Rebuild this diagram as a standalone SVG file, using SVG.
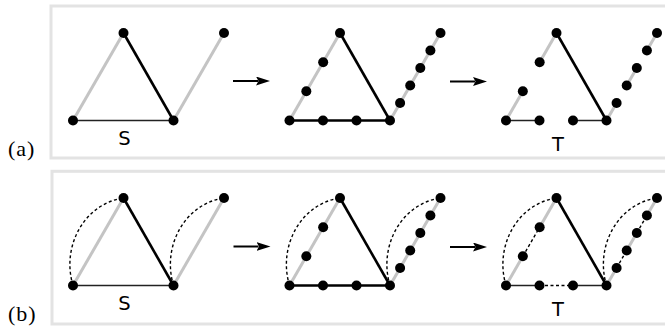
<svg xmlns="http://www.w3.org/2000/svg" width="665" height="333" viewBox="0 0 665 333">
<style>
.frame{fill:none;stroke:#e3e3e3;stroke-width:3}
.gray{stroke:#c4c4c4;stroke-width:3;fill:none}
.heavy{stroke:#000;stroke-width:2.6;fill:none}
.thin{stroke:#222;stroke-width:1.7;fill:none}
.dash{stroke:#000;stroke-width:1.4;stroke-dasharray:3 2.5;fill:none}
.arrow{stroke:#000;stroke-width:2;marker-end:url(#ah)}
.dot{fill:#000}
.lab{font-family:"DejaVu Sans",sans-serif;font-size:19.5px;fill:#000;text-anchor:middle}
.pan{font-family:"Liberation Serif",serif;font-size:22px;fill:#000;letter-spacing:1px}
</style>
<defs>
<marker id="ah" markerUnits="userSpaceOnUse" markerWidth="14" markerHeight="9" viewBox="0 0 14 9" refX="2" refY="4.5" orient="auto">
<path d="M0,0 L14,4.5 L0,9 L2.5,4.5 z" fill="#000"/>
</marker>
</defs>
<g id="frames">
<rect class="frame" x="51" y="6" width="620" height="152"/>
<rect class="frame" x="52" y="171.3" width="620" height="152.7"/>
</g>
<g id="labels">
<text class="pan" x="8" y="156">(a)</text>
<text class="pan" x="8" y="321">(b)</text>
<text class="lab" x="124.5" y="144.5">S</text>
<text class="lab" x="558" y="150.5">T</text>
<text class="lab" x="124.5" y="310">S</text>
<text class="lab" x="558" y="315.5">T</text>
</g>
<g id="connectors">
<line class="gray" x1="73" y1="120.5" x2="123.5" y2="33"/>
<line class="gray" x1="173.5" y1="120.5" x2="224" y2="33"/>
<line class="heavy" x1="123.5" y1="33" x2="173.5" y2="120.5"/>
<line class="thin" x1="73" y1="120.5" x2="173.5" y2="120.5"/>
<line class="gray" x1="289.5" y1="120.5" x2="340" y2="33"/>
<line class="gray" x1="390" y1="120.5" x2="440.5" y2="33"/>
<line class="heavy" x1="340" y1="33" x2="390" y2="120.5"/>
<line class="heavy" x1="289.5" y1="120.5" x2="390" y2="120.5"/>
<line class="gray" x1="556.5" y1="33" x2="539.67" y2="62.17"/>
<line class="gray" x1="522.83" y1="91.33" x2="506" y2="120.5"/>
<line class="heavy" x1="556.5" y1="33" x2="606.5" y2="120.5"/>
<line class="thin" x1="506" y1="120.5" x2="539.5" y2="120.5"/>
<line class="thin" x1="573" y1="120.5" x2="606.5" y2="120.5"/>
<line class="gray" x1="606.5" y1="120.5" x2="616.6" y2="103"/>
<line class="gray" x1="626.7" y1="85.5" x2="636.8" y2="68"/>
<line class="gray" x1="646.9" y1="50.5" x2="657" y2="33"/>
<line class="arrow" x1="233" y1="81" x2="258" y2="81"/>
<line class="arrow" x1="450" y1="81.5" x2="475" y2="81.5"/>
<line class="gray" x1="73" y1="285.5" x2="123.5" y2="198"/>
<line class="gray" x1="173.5" y1="285.5" x2="224" y2="198"/>
<line class="heavy" x1="123.5" y1="198" x2="173.5" y2="285.5"/>
<line class="thin" x1="73" y1="285.5" x2="173.5" y2="285.5"/>
<path class="dash" d="M73,285.5 C61,245.5 85,203.5 123.5,198"/>
<path class="dash" d="M173.5,285.5 C161.5,245.5 185.5,203.5 224,198"/>
<line class="gray" x1="289.5" y1="285.5" x2="340" y2="198"/>
<line class="gray" x1="390" y1="285.5" x2="440.5" y2="198"/>
<line class="heavy" x1="340" y1="198" x2="390" y2="285.5"/>
<line class="heavy" x1="289.5" y1="285.5" x2="390" y2="285.5"/>
<path class="dash" d="M289.5,285.5 C277.5,245.5 301.5,203.5 340,198"/>
<path class="dash" d="M390,285.5 C378,245.5 402,203.5 440.5,198"/>
<line class="gray" x1="556.5" y1="198" x2="539.67" y2="227.17"/>
<line class="gray" x1="522.83" y1="256.33" x2="506" y2="285.5"/>
<line class="dash" x1="522.83" y1="256.33" x2="539.67" y2="227.17"/>
<line class="heavy" x1="556.5" y1="198" x2="606.5" y2="285.5"/>
<line class="thin" x1="506" y1="285.5" x2="539.5" y2="285.5"/>
<line class="dash" x1="539.5" y1="285.5" x2="573" y2="285.5"/>
<line class="thin" x1="573" y1="285.5" x2="606.5" y2="285.5"/>
<line class="gray" x1="606.5" y1="285.5" x2="616.6" y2="268"/>
<line class="dash" x1="616.6" y1="268" x2="626.7" y2="250.5"/>
<line class="gray" x1="626.7" y1="250.5" x2="636.8" y2="233"/>
<line class="dash" x1="636.8" y1="233" x2="646.9" y2="215.5"/>
<line class="gray" x1="646.9" y1="215.5" x2="657" y2="198"/>
<path class="dash" d="M506,285.5 C494,245.5 518,203.5 556.5,198"/>
<path class="dash" d="M606.5,285.5 C594.5,245.5 618.5,203.5 657,198"/>
<line class="arrow" x1="233.5" y1="246.5" x2="258.5" y2="246.5"/>
<line class="arrow" x1="450" y1="247" x2="475" y2="247"/>
</g>
<g id="nodes">
<g id="a1-bl"><circle class="dot" cx="73" cy="120.5" r="5"/></g>
<g id="a1-top"><circle class="dot" cx="123.5" cy="33" r="5"/></g>
<g id="a1-br"><circle class="dot" cx="173.5" cy="120.5" r="5"/></g>
<g id="a1-far"><circle class="dot" cx="224" cy="33" r="5"/></g>
<g id="a2-bl"><circle class="dot" cx="289.5" cy="120.5" r="5"/></g>
<g id="a2-top"><circle class="dot" cx="340" cy="33" r="5"/></g>
<g id="a2-br"><circle class="dot" cx="390" cy="120.5" r="5"/></g>
<g id="a2-far"><circle class="dot" cx="440.5" cy="33" r="5"/></g>
<g id="a2-l1"><circle class="dot" cx="306.33" cy="91.33" r="5"/></g>
<g id="a2-l2"><circle class="dot" cx="323.17" cy="62.17" r="5"/></g>
<g id="a2-b1"><circle class="dot" cx="323" cy="120.5" r="5"/></g>
<g id="a2-b2"><circle class="dot" cx="356.5" cy="120.5" r="5"/></g>
<g id="a2-r1"><circle class="dot" cx="400.1" cy="103" r="5"/></g>
<g id="a2-r2"><circle class="dot" cx="410.2" cy="85.5" r="5"/></g>
<g id="a2-r3"><circle class="dot" cx="420.3" cy="68" r="5"/></g>
<g id="a2-r4"><circle class="dot" cx="430.4" cy="50.5" r="5"/></g>
<g id="a3-bl"><circle class="dot" cx="506" cy="120.5" r="5"/></g>
<g id="a3-top"><circle class="dot" cx="556.5" cy="33" r="5"/></g>
<g id="a3-br"><circle class="dot" cx="606.5" cy="120.5" r="5"/></g>
<g id="a3-far"><circle class="dot" cx="657" cy="33" r="5"/></g>
<g id="a3-l1"><circle class="dot" cx="522.83" cy="91.33" r="5"/></g>
<g id="a3-l2"><circle class="dot" cx="539.67" cy="62.17" r="5"/></g>
<g id="a3-b1"><circle class="dot" cx="539.5" cy="120.5" r="5"/></g>
<g id="a3-b2"><circle class="dot" cx="573" cy="120.5" r="5"/></g>
<g id="a3-r1"><circle class="dot" cx="616.6" cy="103" r="5"/></g>
<g id="a3-r2"><circle class="dot" cx="626.7" cy="85.5" r="5"/></g>
<g id="a3-r3"><circle class="dot" cx="636.8" cy="68" r="5"/></g>
<g id="a3-r4"><circle class="dot" cx="646.9" cy="50.5" r="5"/></g>
<g id="b1-bl"><circle class="dot" cx="73" cy="285.5" r="5"/></g>
<g id="b1-top"><circle class="dot" cx="123.5" cy="198" r="5"/></g>
<g id="b1-br"><circle class="dot" cx="173.5" cy="285.5" r="5"/></g>
<g id="b1-far"><circle class="dot" cx="224" cy="198" r="5"/></g>
<g id="b2-bl"><circle class="dot" cx="289.5" cy="285.5" r="5"/></g>
<g id="b2-top"><circle class="dot" cx="340" cy="198" r="5"/></g>
<g id="b2-br"><circle class="dot" cx="390" cy="285.5" r="5"/></g>
<g id="b2-far"><circle class="dot" cx="440.5" cy="198" r="5"/></g>
<g id="b2-l1"><circle class="dot" cx="306.33" cy="256.33" r="5"/></g>
<g id="b2-l2"><circle class="dot" cx="323.17" cy="227.17" r="5"/></g>
<g id="b2-b1"><circle class="dot" cx="323" cy="285.5" r="5"/></g>
<g id="b2-b2"><circle class="dot" cx="356.5" cy="285.5" r="5"/></g>
<g id="b2-r1"><circle class="dot" cx="400.1" cy="268" r="5"/></g>
<g id="b2-r2"><circle class="dot" cx="410.2" cy="250.5" r="5"/></g>
<g id="b2-r3"><circle class="dot" cx="420.3" cy="233" r="5"/></g>
<g id="b2-r4"><circle class="dot" cx="430.4" cy="215.5" r="5"/></g>
<g id="b3-bl"><circle class="dot" cx="506" cy="285.5" r="5"/></g>
<g id="b3-top"><circle class="dot" cx="556.5" cy="198" r="5"/></g>
<g id="b3-br"><circle class="dot" cx="606.5" cy="285.5" r="5"/></g>
<g id="b3-far"><circle class="dot" cx="657" cy="198" r="5"/></g>
<g id="b3-l1"><circle class="dot" cx="522.83" cy="256.33" r="5"/></g>
<g id="b3-l2"><circle class="dot" cx="539.67" cy="227.17" r="5"/></g>
<g id="b3-b1"><circle class="dot" cx="539.5" cy="285.5" r="5"/></g>
<g id="b3-b2"><circle class="dot" cx="573" cy="285.5" r="5"/></g>
<g id="b3-r1"><circle class="dot" cx="616.6" cy="268" r="5"/></g>
<g id="b3-r2"><circle class="dot" cx="626.7" cy="250.5" r="5"/></g>
<g id="b3-r3"><circle class="dot" cx="636.8" cy="233" r="5"/></g>
<g id="b3-r4"><circle class="dot" cx="646.9" cy="215.5" r="5"/></g>
</g>
</svg>
